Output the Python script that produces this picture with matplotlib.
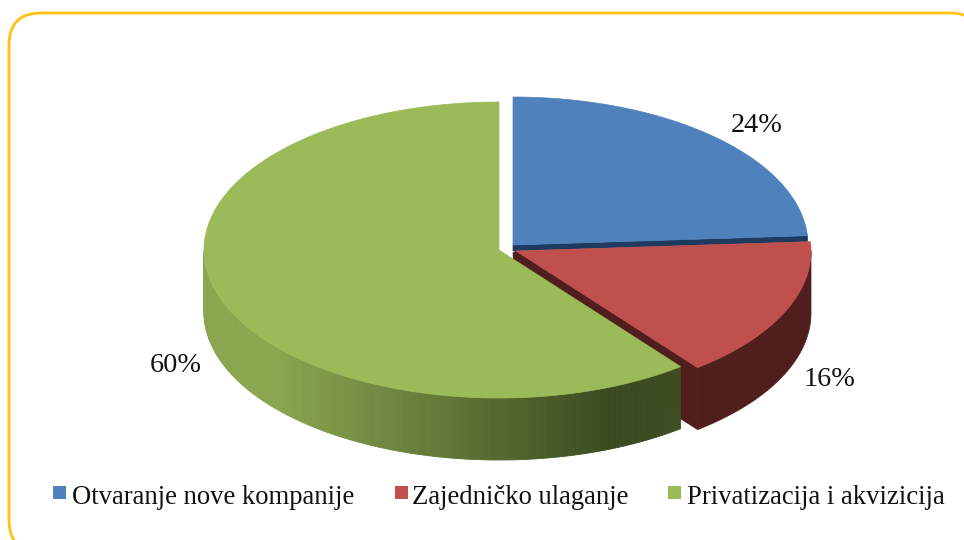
import numpy as np
import matplotlib
matplotlib.use("Agg")
import matplotlib.pyplot as plt
from matplotlib.patches import FancyBboxPatch, Polygon, Rectangle
from matplotlib.colors import to_rgb

labels = ["Otvaranje nove kompanije", "Zajedničko ulaganje", "Privatizacija i akvizicija"]
values = [24, 16, 60]
pct_labels = ["24%", "16%", "60%"]
colors = ["#4F81BD", "#C0504D", "#9BBB59"]

RX, RY, DEPTH = 295, 148, 62


def rim(cx, cy, a0, a1, n=200):
    # angles clockwise from 12 o'clock, degrees
    t = np.radians(np.linspace(a0, a1, n))
    return np.column_stack([cx + RX * np.sin(t), cy - RY * np.cos(t)])


def mix(c1, c2, f):
    return tuple(np.array(to_rgb(c1)) * (1 - f) + np.array(to_rgb(c2)) * f)


fig = plt.figure(figsize=(9.64, 5.40), dpi=100)
ax = fig.add_axes([0, 0, 1, 1])
ax.set_xlim(0, 964)
ax.set_ylim(540, 0)
ax.axis("off")

ax.add_patch(FancyBboxPatch((9, 13), 973, 539, boxstyle="round,pad=0,rounding_size=32",
                            fc="white", ec="#FFC20E", lw=2))

# slice angles from the values, the last cut sits a little off because of the tilt
edges = np.cumsum([0] + values) * 3.6
cut = edges[2] - 2
a_blue = (edges[0], edges[1])
a_red = (edges[1], cut)
a_green = (cut, edges[3])
c_blue = np.array([513, 245])
c_red = np.array([516, 251])
c_green = np.array([499, 250])

# green side wall with its shading left to right
pts = rim(*c_green, a_green[1] - 360, a_green[0] - 360, 300)
pts = pts[(pts[:, 1] >= c_green[1])]
pts = pts[np.argsort(pts[:, 0])]
xs = pts[:, 0]
for i in range(len(pts) - 1):
    f = (xs[i] - xs[0]) / (xs[-1] - xs[0])
    if f < 0.15:
        col = "#8AA64F"
    elif f < 0.85:
        col = mix("#8AA64F", "#3A4A1F", (f - 0.15) / 0.7)
    else:
        col = mix("#3A4A1F", "#3E4C22", (f - 0.85) / 0.15)
    ax.add_patch(Polygon([pts[i], pts[i + 1], pts[i + 1] + [0, DEPTH], pts[i] + [0, DEPTH]],
                         fc=col, ec=col, lw=0.6, zorder=2))

# red wall, outer and the cut face
red_rim = rim(*c_red, a_red[0], a_red[1])
red_low = red_rim[red_rim[:, 1] >= c_red[1]]
ax.add_patch(Polygon(np.vstack([red_low, red_low[::-1] + [0, DEPTH]]),
                     fc="#4F1E1D", ec="#4F1E1D", lw=0.5, zorder=3))
ax.add_patch(Polygon([c_red + [-3, 2], c_red, red_rim[-1], red_rim[-1] + [0, DEPTH], c_red + [0, DEPTH]],
                     fc="#4F1E1D", ec="#4F1E1D", lw=0.5, zorder=1))

# blue wall sliver under the slice
blue_rim = rim(*c_blue, a_blue[0], a_blue[1])
ax.add_patch(Polygon([c_blue, blue_rim[-1], blue_rim[-1] + [0, 6], c_blue + [0, 6]],
                     fc="#1F3A5F", ec="#1F3A5F", lw=0.5, zorder=3))

# tops
ax.add_patch(Polygon(np.vstack([[c_red], red_rim]), fc=colors[1], ec=colors[1], lw=0.5, zorder=4))
ax.add_patch(Polygon(np.vstack([[c_blue], blue_rim]), fc=colors[0], ec=colors[0], lw=0.5, zorder=4))
ax.add_patch(Polygon(np.vstack([[c_green], rim(*c_green, *a_green, 400)]),
                     fc=colors[2], ec=colors[2], lw=0.5, zorder=5))

# percent labels
font = "Liberation Serif"
for txt, x, y in zip(pct_labels, [757, 830, 176], [126, 380, 366]):
    ax.text(x, y, txt, fontsize=20.3, family=font, ha="center", va="center", color="#111111", zorder=6)

# legend
for lab, col, mx, tx in zip(labels, colors, [53, 395, 668], [72, 412, 687]):
    ax.add_patch(Rectangle((mx, 486), 13, 13, fc=col, ec="none", zorder=6))
    ax.text(tx, 497, lab, fontsize=19.2, family=font, ha="left", va="center", color="#111111", zorder=6)

fig.savefig("out.png", dpi=100)
